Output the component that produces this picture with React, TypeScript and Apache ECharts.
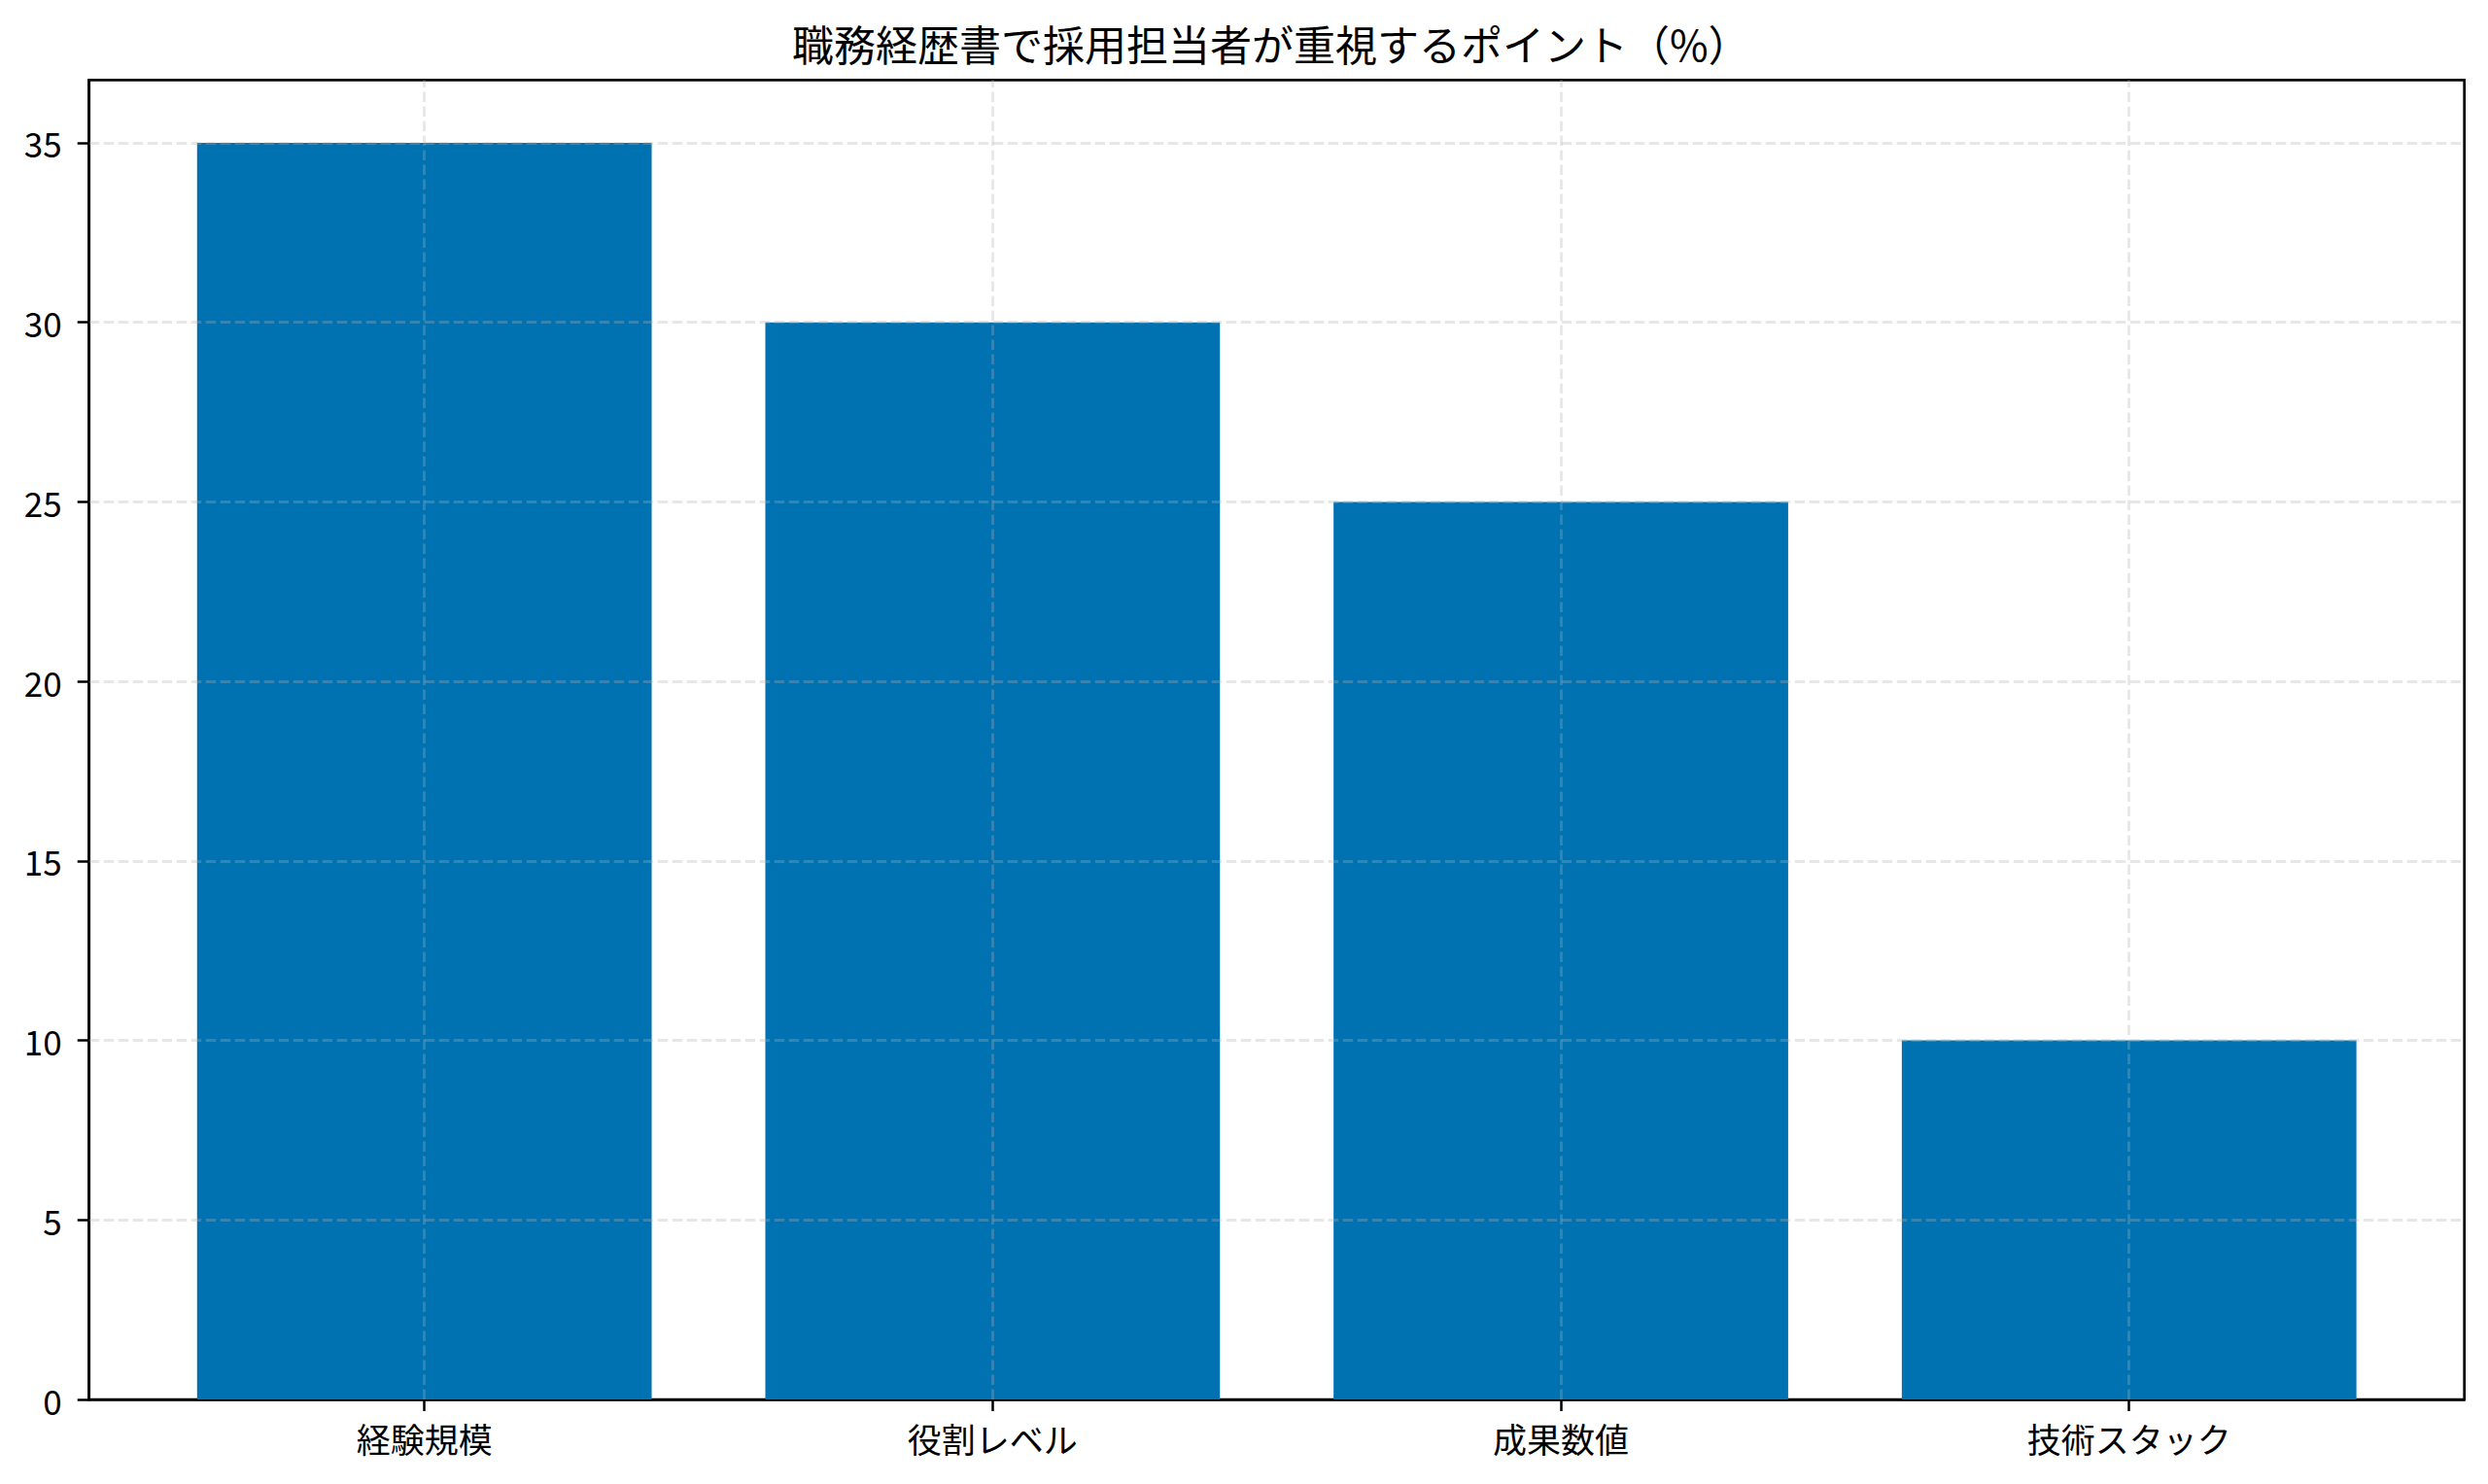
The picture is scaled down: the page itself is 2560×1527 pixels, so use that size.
import * as echarts from 'echarts';
import { useEffect, useRef } from 'react';

const TITLE = '職務経歴書で採用担当者が重視するポイント（%）';
const categories = ['経験規模', '役割レベル', '成果数値', '技術スタック'];
const values = [35, 30, 25, 10];
const yTicks = [0, 5, 10, 15, 20, 25, 30, 35];

const FONT = '"Noto Sans CJK JP", "Noto Sans", sans-serif';
const GRID = { left: 91.7, top: 82.3, right: 2535.7, bottom: 1440 };
const X_MIN = -0.59;
const X_MAX = 3.59;
const BAR_COLOR = '#0072B2';
const GRID_LINE = 'rgba(176,176,176,0.3)';

export default function App() {
  const chartRef = useRef<HTMLDivElement>(null);

  useEffect(() => {
    if (!chartRef.current) return;
    const chart = echarts.init(chartRef.current, undefined, { renderer: 'svg' });

    const plotWidth = GRID.right - GRID.left;
    const barWidth = (plotWidth / (X_MAX - X_MIN)) * 0.8;
    const xTicks = categories.map((_, i) => i);

    chart.setOption({
      animation: false,
      backgroundColor: '#fff',
      graphic: [
        {
          type: 'text',
          x: (GRID.left + GRID.right) / 2 - 6,
          y: 44,
          style: {
            text: TITLE,
            fontFamily: FONT,
            fontSize: 43,
            fill: '#000',
            align: 'center',
            verticalAlign: 'middle',
          },
        },
      ],
      grid: {
        left: GRID.left,
        top: GRID.top,
        width: plotWidth,
        height: GRID.bottom - GRID.top,
        show: true,
        borderColor: '#000',
        borderWidth: 2.7,
        backgroundColor: 'transparent',
        containLabel: false,
      },
      xAxis: {
        type: 'value',
        min: X_MIN,
        max: X_MAX,
        splitLine: { show: false },
        axisLine: { show: true, onZero: false, lineStyle: { color: '#000', width: 2.7 } },
        axisTick: {
          show: true,
          customValues: xTicks,
          length: 12,
          lineStyle: { color: '#000', width: 2.5 },
        },
        axisLabel: {
          customValues: xTicks,
          formatter: (v: number) => categories[Math.round(v)] ?? '',
          fontFamily: FONT,
          fontSize: 35,
          color: '#000',
          margin: 22,
        },
      },
      yAxis: {
        type: 'value',
        min: 0,
        max: 36.75,
        splitLine: { show: false },
        axisLine: { show: true, onZero: false, lineStyle: { color: '#000', width: 2.7 } },
        axisTick: {
          show: true,
          customValues: yTicks,
          length: 12,
          lineStyle: { color: '#000', width: 2.5 },
        },
        axisLabel: {
          customValues: yTicks,
          fontFamily: FONT,
          fontSize: 35,
          color: '#000',
          margin: 28,
        },
      },
      series: [
        {
          type: 'bar',
          barWidth,
          itemStyle: { color: BAR_COLOR },
          data: values.map((v, i) => [i, v]),
          markLine: {
            silent: true,
            symbol: ['none', 'none'],
            label: { show: false },
            lineStyle: { color: GRID_LINE, type: [10.5, 4.5], width: 2.8 },
            data: [
              ...xTicks.map(v => ({ xAxis: v })),
              ...yTicks.filter(v => v > 0).map(v => ({ yAxis: v })),
            ],
          },
        },
      ],
    });

    return () => {
      chart.dispose();
    };
  }, []);

  return (
    <div
      ref={chartRef}
      style={{ position: 'absolute', left: 0, top: 0, width: 2560, height: 1527 }}
    />
  );
}
